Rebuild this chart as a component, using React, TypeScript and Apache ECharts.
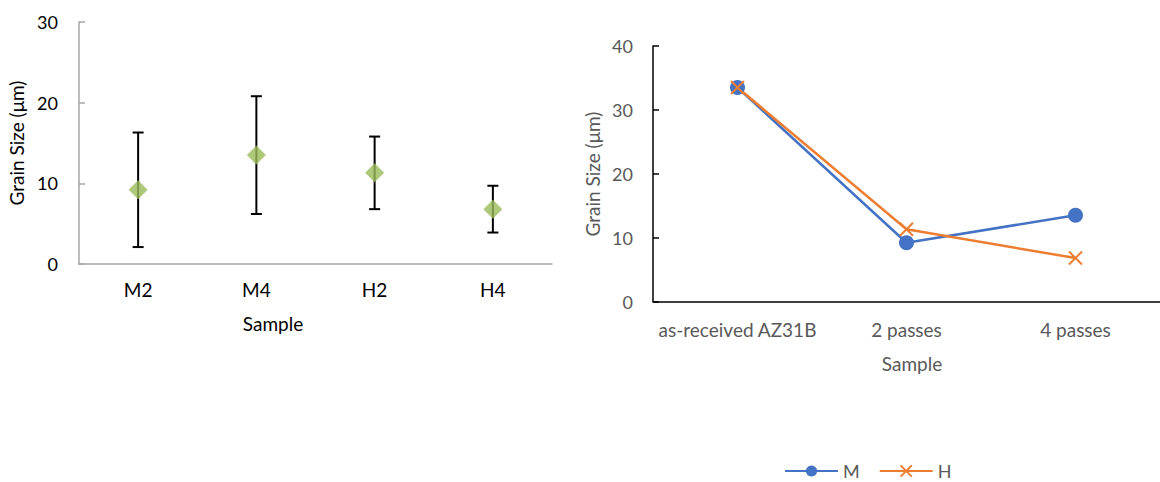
import React, { useEffect, useRef } from "react";
import * as echarts from "echarts";

const leftCategories = ["M2", "M4", "H2", "H4"];
const leftMean = [9.2, 13.5, 11.3, 6.8];
const leftError = [7.1, 7.3, 4.5, 2.9];
const leftTicks = { min: 0, max: 30, interval: 10 };

const rightCategories = ["as-received AZ31B", "2 passes", "4 passes"];
const seriesM = [33.5, 9.2, 13.5];
const seriesH = [33.5, 11.3, 6.8];
const rightTicks = { min: 0, max: 40, interval: 10 };

const FONT = "Lato";

export default function App() {
  const ref = useRef<HTMLDivElement>(null);
  useEffect(() => {
    if (!ref.current) return;
    const chart = echarts.init(ref.current, undefined, { renderer: "svg" });
    const greyAxis = { color: "#A6A6A6", width: 1.5 };
    const blackAxis = { color: "#000000", width: 1.5 };
    const option: any = {
      animation: false,
      backgroundColor: "#ffffff",
      textStyle: { fontFamily: FONT },
      grid: [
        { left: 79, top: 22, width: 473, height: 242 },
        { left: 653, top: 46, width: 517, height: 255.5 },
      ],
      xAxis: [
        {
          type: "category",
          gridIndex: 0,
          data: leftCategories,
          axisLine: { lineStyle: greyAxis },
          axisTick: { show: false },
          axisLabel: { color: "#000000", fontSize: 19, margin: 16, interval: 0, fontFamily: FONT },
        },
        {
          type: "category",
          gridIndex: 1,
          data: rightCategories,
          axisLine: { lineStyle: blackAxis },
          axisTick: { show: false },
          axisLabel: { color: "#595959", fontSize: 19, margin: 18, interval: 0, fontFamily: FONT },
        },
      ],
      yAxis: [
        {
          type: "value",
          gridIndex: 0,
          ...leftTicks,
          axisLine: { show: true, lineStyle: greyAxis },
          axisTick: { show: true, inside: true, length: 6, lineStyle: greyAxis },
          splitLine: { show: false },
          axisLabel: { color: "#000000", fontSize: 18, margin: 21, fontFamily: FONT },
        },
        {
          type: "value",
          gridIndex: 1,
          ...rightTicks,
          axisLine: { show: true, lineStyle: blackAxis },
          axisTick: { show: true, inside: true, length: 6, lineStyle: blackAxis },
          splitLine: { show: false },
          axisLabel: { color: "#595959", fontSize: 18, margin: 20, fontFamily: FONT },
        },
      ],
      legend: {
        data: ["M", "H"],
        left: 784,
        top: 462,
        padding: 0,
        itemWidth: 53,
        itemHeight: 14,
        itemGap: 19,
        textStyle: { color: "#595959", fontSize: 18, lineHeight: 18, fontFamily: FONT },
      },
      graphic: [
        {
          type: "text",
          x: 16,
          y: 143,
          rotation: Math.PI / 2,
          style: {
            text: "Grain Size (μm)",
            fill: "#000000",
            font: `19px ${FONT}`,
            align: "center",
            verticalAlign: "middle",
          },
        },
        {
          type: "text",
          x: 273,
          y: 323,
          style: {
            text: "Sample",
            fill: "#000000",
            font: `19px ${FONT}`,
            align: "center",
            verticalAlign: "middle",
          },
        },
        {
          type: "text",
          x: 592,
          y: 174,
          rotation: Math.PI / 2,
          style: {
            text: "Grain Size (μm)",
            fill: "#595959",
            font: `19px ${FONT}`,
            align: "center",
            verticalAlign: "middle",
          },
        },
        {
          type: "text",
          x: 912,
          y: 363,
          style: {
            text: "Sample",
            fill: "#595959",
            font: `19px ${FONT}`,
            align: "center",
            verticalAlign: "middle",
          },
        },
      ],
      series: [
        {
          type: "custom",
          xAxisIndex: 0,
          yAxisIndex: 0,
          z: 1,
          encode: { x: 0, y: 1 },
          data: leftCategories.map((_, i) => [i, leftMean[i], leftError[i]]),
          renderItem: (params: any, api: any) => {
            const idx = api.value(0);
            const mean = api.value(1);
            const err = api.value(2);
            const top = api.coord([idx, mean + err]);
            const bot = api.coord([idx, mean - err]);
            const hw = 5.5;
            const st = { stroke: "#000000", lineWidth: 2 };
            return {
              type: "group",
              children: [
                { type: "line", shape: { x1: top[0], y1: top[1], x2: bot[0], y2: bot[1] }, style: st },
                { type: "line", shape: { x1: top[0] - hw, y1: top[1], x2: top[0] + hw, y2: top[1] }, style: st },
                { type: "line", shape: { x1: bot[0] - hw, y1: bot[1], x2: bot[0] + hw, y2: bot[1] }, style: st },
              ],
            };
          },
        },
        {
          type: "scatter",
          name: "Mean",
          xAxisIndex: 0,
          yAxisIndex: 0,
          z: 3,
          symbol: "diamond",
          symbolSize: 19,
          itemStyle: { color: "#9BBB59" },
          data: leftMean,
        },
        {
          type: "line",
          name: "M",
          xAxisIndex: 1,
          yAxisIndex: 1,
          data: seriesM,
          symbol: "circle",
          symbolSize: 15,
          itemStyle: { color: "#4472C4" },
          lineStyle: { color: "#4472C4", width: 2.5 },
        },
        {
          type: "line",
          name: "H",
          xAxisIndex: 1,
          yAxisIndex: 1,
          data: seriesH,
          symbol: "path://M0,0L10,10M0,10L10,0",
          symbolSize: 13,
          itemStyle: { color: "#ED7D31", borderColor: "#ED7D31", borderWidth: 2 },
          lineStyle: { color: "#ED7D31", width: 2.5 },
        },
      ],
    };
    chart.setOption(option);
    return () => chart.dispose();
  }, []);
  return (
    <div
      ref={ref}
      style={{ position: "absolute", left: 0, top: 0, width: 1160, height: 482 }}
    />
  );
}
